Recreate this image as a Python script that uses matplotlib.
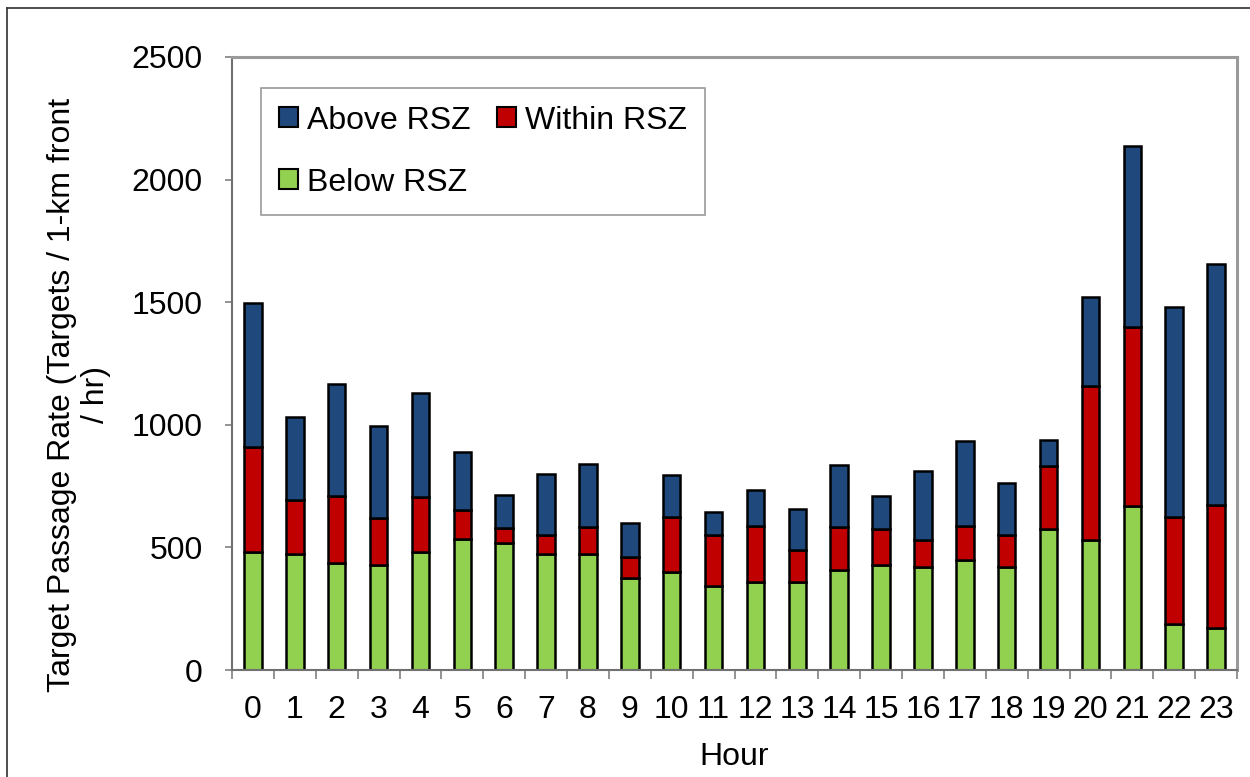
import matplotlib
matplotlib.use("Agg")
import matplotlib.pyplot as plt
import numpy as np

hours = [str(h) for h in range(24)]
below = [483, 473, 435, 428, 483, 534, 517, 473, 475, 375, 401, 344,
         358, 359, 409, 428, 419, 449, 420, 575, 530, 667, 187, 173]
within_top = [910, 693, 710, 619, 706, 653, 579, 552, 582, 462, 623, 552,
              587, 491, 582, 575, 531, 589, 550, 833, 1158, 1399, 626, 672]
total = [1498, 1032, 1165, 994, 1130, 888, 715, 799, 840, 598, 797, 644,
         733, 655, 835, 708, 810, 935, 764, 940, 1521, 2137, 1482, 1657]

within = [w - b for w, b in zip(within_top, below)]
above = [t - w for t, w in zip(total, within_top)]

plt.rcParams['font.family'] = ['Liberation Sans', 'DejaVu Sans']

W, H = 1250, 777
FS = 23
fig = plt.figure(figsize=(W / 100, H / 100), dpi=100)
ax = fig.add_axes([232 / W, 1 - 670 / H, (1237 - 232) / W, (670 - 57) / H])

x = np.arange(len(hours))
bw = 0.42
ek = dict(edgecolor='black', linewidth=1.8, width=bw)
b1 = ax.bar(x, below, color='#92D050', label='Below RSZ', **ek)
b2 = ax.bar(x, within, bottom=below, color='#C00000', label='Within RSZ', **ek)
b3 = ax.bar(x, above, bottom=within_top, color='#1F497D', label='Above RSZ', **ek)

ax.set_xlim(-0.5, 23.5)
ax.set_ylim(0, 2500)
ax.set_yticks([0, 500, 1000, 1500, 2000, 2500])
ax.set_xticks(x)
ax.set_xticklabels(hours)
ax.set_xticks(np.arange(-0.5, 24, 1), minor=True)
ax.tick_params(axis='x', which='major', length=0, labelsize=FS, pad=18)
ax.tick_params(axis='x', which='minor', length=6.5, width=1.2, color='#808080', direction='out')
ax.tick_params(axis='y', labelsize=FS, length=5, width=1.2, color='#808080', pad=16)

for s in ['left', 'bottom']:
    ax.spines[s].set_color('#707070')
    ax.spines[s].set_linewidth(1.5)
for s in ['top', 'right']:
    ax.spines[s].set_color('#9A9A9A')
    ax.spines[s].set_linewidth(2.2)

fig.text((232 + 1237) / 2 / W, 1 - 757 / H, 'Hour', fontsize=FS, ha='center', va='center')
fig.text(79 / W, 1 - 395 / H, 'Target Passage Rate (Targets / 1-km front\n/ hr)',
         fontsize=FS, rotation=90, ha='center', va='center', linespacing=1.2,
         multialignment='center')

leg = ax.legend(handles=[b3, b1, b2], labels=['Above RSZ', 'Below RSZ', 'Within RSZ'],
                ncol=2, loc='upper left',
                bbox_to_anchor=(261 / W, 1 - 88 / H), bbox_transform=fig.transFigure,
                fontsize=FS, frameon=True, fancybox=False,
                handlelength=0.6, handleheight=0.6, handletextpad=0.3,
                labelspacing=1.0, columnspacing=0.8, borderpad=0.55,
                borderaxespad=0)
leg.get_frame().set_edgecolor('#808080')
leg.get_frame().set_linewidth(1.2)
for p in leg.get_patches():
    p.set_linewidth(1.5)

# outer chart border
fig.add_artist(plt.Line2D([7 / W, 7 / W], [0, 1 - 8 / H], transform=fig.transFigure,
                          color='#303030', lw=1.2))
fig.add_artist(plt.Line2D([7 / W, 1], [1 - 8 / H, 1 - 8 / H], transform=fig.transFigure,
                          color='#303030', lw=1.2))

fig.savefig('out.png', dpi=100)
